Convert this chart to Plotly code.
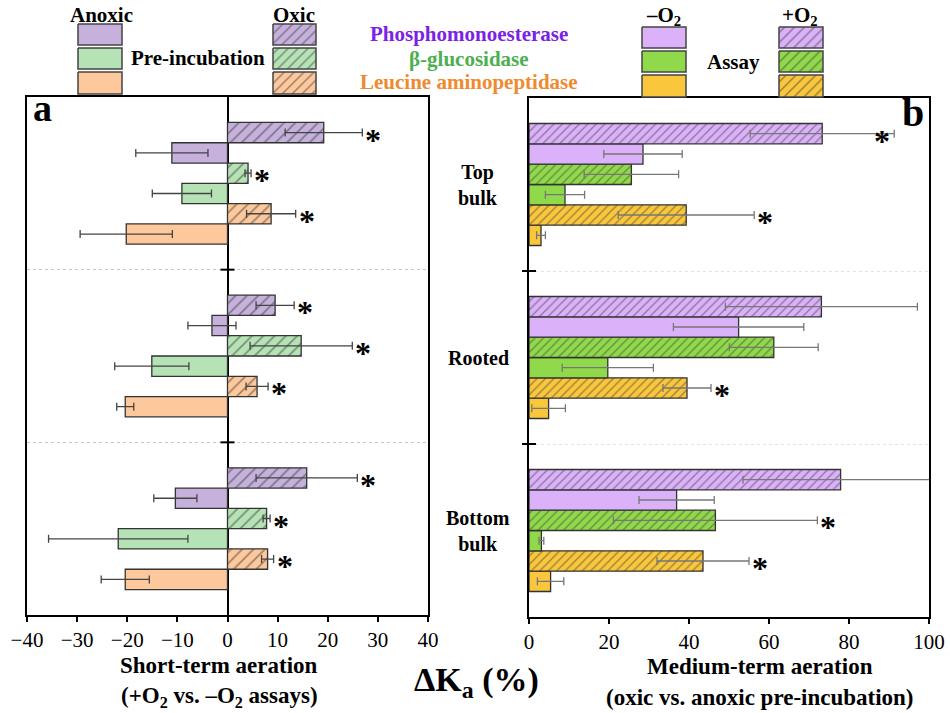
import plotly.graph_objects as go

W, H = 950, 713
SERIF = "Liberation Serif, Times New Roman, serif"

# ---- data -------------------------------------------------------------
sites = ["Top bulk", "Rooted", "Bottom bulk"]
site_labels = ["Top<br>bulk", "Rooted", "Bottom<br>bulk"]
enzymes = ["Phosphomonoesterase", "β-glucosidase", "Leucine aminopeptidase"]

# (a) short-term aeration: ΔKa of +O2 vs. –O2 assays
a_anoxic_pme = [-11.1, -3.1, -10.4]
a_anoxic_pme_err = [7.2, 4.8, 4.3]
a_oxic_pme = [19.2, 9.5, 15.8]
a_oxic_pme_err = [7.7, 3.8, 10.1]
a_anoxic_bg = [-9.1, -15.1, -21.8]
a_anoxic_bg_err = [5.9, 7.4, 13.9]
a_oxic_bg = [4.1, 14.7, 7.8]
a_oxic_bg_err = [0.6, 10.2, 0.7]
a_anoxic_lap = [-20.2, -20.4, -20.4]
a_anoxic_lap_err = [9.2, 1.7, 4.8]
a_oxic_lap = [8.7, 5.9, 8.0]
a_oxic_lap_err = [4.9, 2.2, 1.2]
a_oxic_sig_pme = [True, True, True]
a_oxic_sig_bg = [True, True, True]
a_oxic_sig_lap = [True, True, True]

# (b) medium-term aeration: ΔKa of oxic vs. anoxic pre-incubation
b_minus_pme = [28.5, 52.4, 36.9]
b_minus_pme_err = [9.8, 16.3, 9.4]
b_plus_pme = [73.3, 73.1, 77.9]
b_plus_pme_err = [18.0, 24.0, 24.4]
b_minus_bg = [9.0, 19.7, 3.1]
b_minus_bg_err = [4.9, 11.4, 0.6]
b_plus_bg = [25.6, 61.2, 46.6]
b_plus_bg_err = [11.8, 11.1, 25.5]
b_minus_lap = [3.0, 4.9, 5.4]
b_minus_lap_err = [1.1, 4.2, 3.3]
b_plus_lap = [39.3, 39.5, 43.5]
b_plus_lap_err = [17.0, 6.0, 11.5]
b_plus_sig_pme = [True, False, False]
b_plus_sig_bg = [False, False, True]
b_plus_sig_lap = [True, True, True]

a_ticks = [-40, -30, -20, -10, 0, 10, 20, 30, 40]
b_ticks = [0, 20, 40, 60, 80, 100]

# ---- styles -----------------------------------------------------------
a_colors = ["#c5b1dc", "#b5e3b5", "#fdc89b"]
b_colors = ["#dbb1fa", "#90d94b", "#f9c63c"]
enzyme_text_colors = ["#7b22e6", "#4caf50", "#f08a2e"]
OUTLINE = "#333333"
HATCH = "#3a3a3a"
BARGAP = 0.295

fig = go.Figure()

ypos = [len(sites) - 1 - i for i in range(len(sites))]
boundaries = [i + 0.5 for i in range(len(sites) - 1)]

panel_a = [
    (a_anoxic_lap, a_anoxic_lap_err, a_colors[2], False, None),
    (a_oxic_lap, a_oxic_lap_err, a_colors[2], True, a_oxic_sig_lap),
    (a_anoxic_bg, a_anoxic_bg_err, a_colors[1], False, None),
    (a_oxic_bg, a_oxic_bg_err, a_colors[1], True, a_oxic_sig_bg),
    (a_anoxic_pme, a_anoxic_pme_err, a_colors[0], False, None),
    (a_oxic_pme, a_oxic_pme_err, a_colors[0], True, a_oxic_sig_pme),
]
panel_b = [
    (b_minus_lap, b_minus_lap_err, b_colors[2], False, None),
    (b_plus_lap, b_plus_lap_err, b_colors[2], True, b_plus_sig_lap),
    (b_minus_bg, b_minus_bg_err, b_colors[1], False, None),
    (b_plus_bg, b_plus_bg_err, b_colors[1], True, b_plus_sig_bg),
    (b_minus_pme, b_minus_pme_err, b_colors[0], False, None),
    (b_plus_pme, b_plus_pme_err, b_colors[0], True, b_plus_sig_pme),
]

annotations = []


def add_panel(series, xa, ya, err_color, hatch_size, xmax):
    n = len(series)
    width = (1 - BARGAP) / n
    for k, (vals, errs, color, hatched, sig) in enumerate(series):
        marker = dict(color=color, line=dict(color=OUTLINE, width=1.3))
        if hatched:
            marker["pattern"] = dict(shape="/", fgcolor=HATCH, bgcolor=color,
                                     size=hatch_size, solidity=0.22)
        fig.add_trace(go.Bar(
            x=vals, y=ypos, orientation="h", xaxis=xa, yaxis=ya,
            marker=marker, showlegend=False,
            error_x=dict(type="data", array=errs, color=err_color,
                         thickness=1.3, width=4),
        ))
        if sig:
            off = -(1 - BARGAP) / 2 + (k + 0.5) * width
            for v, e, y, s in zip(vals, errs, ypos, sig):
                if s:
                    # near the right frame the star sits just inside the cap
                    inside = v + e > 0.9 * xmax
                    annotations.append(dict(
                        x=v + e, y=y + off, xref=xa, yref=ya, text="*",
                        showarrow=False,
                        xanchor="right" if inside else "left",
                        xshift=-2 if inside else 1, yshift=-7,
                        font=dict(family=SERIF, size=32, color="black",
                                  weight="bold")))
    # crossing ticks on the vertical line at the site boundaries
    fig.add_trace(go.Scatter(
        x=[0] * len(boundaries), y=boundaries, xaxis=xa, yaxis=ya,
        mode="markers", cliponaxis=False, showlegend=False, hoverinfo="skip",
        marker=dict(symbol="line-ew", size=10,
                    line=dict(color="black", width=2))))


add_panel(panel_a, "x", "y", "#444444", 8, a_ticks[-1])
add_panel(panel_b, "x2", "y2", "#777777", 6, b_ticks[-1])

# ---- legend swatches (pixel-space overlay axes) ------------------------
def swatch(x0, x1, y0, y1, color, hatched):
    kw = dict(
        x=[x0, x1, x1, x0, x0], y=[y0, y0, y1, y1, y0],
        xaxis="x3", yaxis="y3", mode="lines", fill="toself",
        fillcolor=color, line=dict(color="#444444", width=1.5),
        showlegend=False, hoverinfo="skip")
    if hatched:
        kw["fillpattern"] = dict(shape="/", fgcolor=HATCH, bgcolor=color,
                                 size=7, solidity=0.22)
    fig.add_trace(go.Scatter(**kw))


rows_left = [(24, 45), (48, 69), (72, 94)]
rows_right = [(27, 48), (51, 72), (75, 97)]
for (y0, y1), c in zip(rows_left, a_colors):
    swatch(78, 122, y0, y1, c, False)
    swatch(273, 316, y0, y1, c, True)
for (y0, y1), c in zip(rows_right, b_colors):
    swatch(642, 686, y0, y1, c, False)
    swatch(779, 823, y0, y1, c, True)


def text(x, y, s, size=21, color="black", bold=True, xanchor="center"):
    annotations.append(dict(
        x=x / W, y=1 - y / H, xref="paper", yref="paper", text=s,
        showarrow=False, xanchor=xanchor, yanchor="middle",
        font=dict(family=SERIF, size=size, color=color,
                  weight="bold" if bold else "normal")))


text(101, 15, "Anoxic")
text(294, 15, "Oxic")
text(198, 58, "Pre-incubation")
text(663, 16, "–O<sub>2</sub>")
text(800, 16, "+O<sub>2</sub>")
text(733, 62, "Assay")
for name, c, yy in zip(enzymes, enzyme_text_colors, [34, 59, 82]):
    text(469, yy, name, color=c)

text(42, 108, "a", size=38)
text(913, 112, "b", size=40)

text(219, 665, "Short-term aeration", size=23)
text(219, 697, "(+O<sub>2</sub> vs. –O<sub>2</sub> assays)", size=23)
text(760, 666, "Medium-term aeration", size=23)
text(760, 697, "(oxic vs. anoxic pre-incubation)", size=23)
text(476, 682, "ΔK<sub>a</sub> (%)", size=34)

for lab, y in zip(site_labels, ypos):
    annotations.append(dict(
        x=478 / W, y=y, xref="paper", yref="y2", text=lab, showarrow=False,
        xanchor="center", yanchor="middle", align="center",
        font=dict(family=SERIF, size=20, color="black", weight="bold")))

# ---- axes --------------------------------------------------------------
axis_common = dict(showline=True, linecolor="black", linewidth=2, mirror=True,
                   showgrid=False, zeroline=False, automargin=False)
xa_common = dict(axis_common, ticks="outside", ticklen=5, tickwidth=2,
                 tickcolor="black",
                 tickfont=dict(family=SERIF, size=21, color="black"))
ya_common = dict(axis_common, range=[-0.5, len(sites) - 0.5],
                 tickvals=boundaries, showticklabels=False, ticks="",
                 showgrid=True, griddash="dot", gridwidth=1)

fig.update_layout(
    width=W, height=H, autosize=False,
    margin=dict(l=0, r=0, t=0, b=0, pad=0, autoexpand=False),
    paper_bgcolor="white", plot_bgcolor="rgba(0,0,0,0)",
    barmode="group", bargap=BARGAP, bargroupgap=0,
    annotations=annotations,
    xaxis=dict(xa_common, domain=[27 / W, 428 / W], range=[-40, 40],
               tickvals=a_ticks, anchor="y",
               zeroline=True, zerolinecolor="black", zerolinewidth=2),
    yaxis=dict(ya_common, domain=[1 - 615 / H, 1 - 97 / H], anchor="x",
               gridcolor="#c8c8c8"),
    xaxis2=dict(xa_common, domain=[529 / W, 929 / W], range=[0, 100],
                tickvals=b_ticks, anchor="y2"),
    yaxis2=dict(ya_common, domain=[1 - 617 / H, 1 - 98 / H], anchor="x2",
                gridcolor="#e2e2e2"),
    xaxis3=dict(domain=[0, 1], range=[0, W], visible=False, anchor="y3",
                fixedrange=True, automargin=False),
    yaxis3=dict(domain=[0, 1], range=[H, 0], visible=False, anchor="x3",
                fixedrange=True, automargin=False),
)

fig.write_html("out.html", config={"responsive": False})
